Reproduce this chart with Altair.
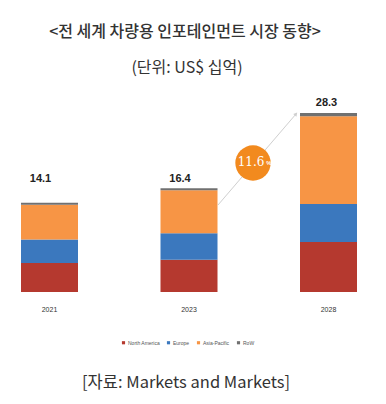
import altair as alt
import pandas as pd

years = ["2021", "2023", "2028"]
regions = ["North America", "Europe", "Asia-Pacific", "RoW"]
north_america = [4.6, 5.1, 7.9]
europe = [3.7, 4.2, 6.0]
asia_pacific = [5.5, 6.8, 13.9]
row_vals = [0.3, 0.3, 0.5]
totals = [14.1, 16.4, 28.3]
cagr = "11.6"
colors = ["#b5392f", "#3b78be", "#f79545", "#707070"]

title = "<전 세계 차량용 인포테인먼트 시장 동향>"
subtitle = "(단위: US$ 십억)"
source = "[자료: Markets and Markets]"

recs = []
for i, y in enumerate(years):
    for k, (r, vals) in enumerate(zip(regions, [north_america, europe, asia_pacific, row_vals])):
        recs.append({"year": y, "region": r, "value": vals[i], "order": k})
df = pd.DataFrame(recs)
df_tot = pd.DataFrame({"year": years, "total": totals})
dummy = pd.DataFrame({"a": [0]})

xs = alt.Scale(type="point", domain=years, range=[41.5, 320.5], padding=0)
ys = alt.Scale(domain=[0, 28.3], range=[284, 105], nice=False, zero=True)

KFONT = "Noto Sans CJK KR"

bars = alt.Chart(df).mark_bar(size=57).encode(
    x=alt.X("year:O", scale=xs, axis=None),
    y=alt.Y("value:Q", stack="zero", scale=ys, axis=None),
    color=alt.Color("region:N", scale=alt.Scale(domain=regions, range=colors),
                    legend=alt.Legend(orient="none", legendX=113, legendY=332,
                                      direction="horizontal", title=None,
                                      labelFontSize=5, labelColor="#555555",
                                      symbolSize=10, symbolType="square",
                                      symbolStrokeWidth=0, columnPadding=6,
                                      labelOffset=2, labelFont="Liberation Sans")),
    order=alt.Order("order:Q"),
)

offs = {"2021": (-9, -24), "2023": (-9, -9), "2028": (-2, -10)}
tot_layers = []
for y in years:
    dx, dy = offs[y]
    tot_layers.append(
        alt.Chart(df_tot).transform_filter(alt.datum.year == y).mark_text(
            font="Liberation Sans", fontSize=11, fontWeight="bold", color="#222222",
            dx=dx, dy=dy, baseline="middle"
        ).encode(
            x=alt.X("year:O", scale=xs, axis=None),
            y=alt.Y("total:Q", scale=ys, axis=None),
            text=alt.Text("total:Q", format=".1f"),
        )
    )

year_labels = alt.Chart(df_tot).mark_text(
    font="Liberation Sans", fontSize=7, color="#333333", baseline="middle"
).encode(
    x=alt.X("year:O", scale=xs, axis=None),
    y=alt.value(302),
    text="year:N",
)

arrow_line = alt.Chart(dummy).mark_rule(color="#cfcfcf", strokeWidth=1).encode(
    x=alt.value(210), y=alt.value(197), x2=alt.value(288), y2=alt.value(106)
)
arrow_head = alt.Chart(dummy).mark_point(
    shape="triangle-up", filled=True, color="#cfcfcf", size=18, angle=41, opacity=1
).encode(x=alt.value(288), y=alt.value(106))

circle = alt.Chart(dummy).mark_circle(size=1250, color="#f28a1e", opacity=1).encode(
    x=alt.value(245), y=alt.value(155)
)
cagr_txt = alt.Chart(dummy).mark_text(
    font="DejaVu Serif", fontSize=12, color="white", baseline="middle"
).encode(x=alt.value(243), y=alt.value(154), text=alt.value(cagr))
pct_txt = alt.Chart(dummy).mark_text(
    font="Liberation Sans", fontSize=6, color="white", baseline="middle", fontWeight="bold"
).encode(x=alt.value(261), y=alt.value(155), text=alt.value("%"))

title_txt = alt.Chart(dummy).mark_text(
    font=KFONT, fontSize=16, color="#333333", baseline="middle", fontWeight=500
).encode(x=alt.value(177), y=alt.value(24), text=alt.value(title))
sub_txt = alt.Chart(dummy).mark_text(
    font=KFONT, fontSize=16, color="#333333", baseline="middle"
).encode(x=alt.value(179), y=alt.value(60), text=alt.value(subtitle))
src_txt = alt.Chart(dummy).mark_text(
    font=KFONT, fontSize=16.5, color="#333333", baseline="middle"
).encode(x=alt.value(178), y=alt.value(375), text=alt.value(source))

chart = alt.layer(
    arrow_line, arrow_head, bars, *tot_layers, year_labels, circle, cagr_txt, pct_txt,
    title_txt, sub_txt, src_txt
).properties(
    width=370, height=388, padding=0, autosize=alt.AutoSizeParams(type="none"),
    background="white"
).configure_view(stroke=None)

chart.save("out.html", embed_options={"renderer": "svg", "actions": False})
